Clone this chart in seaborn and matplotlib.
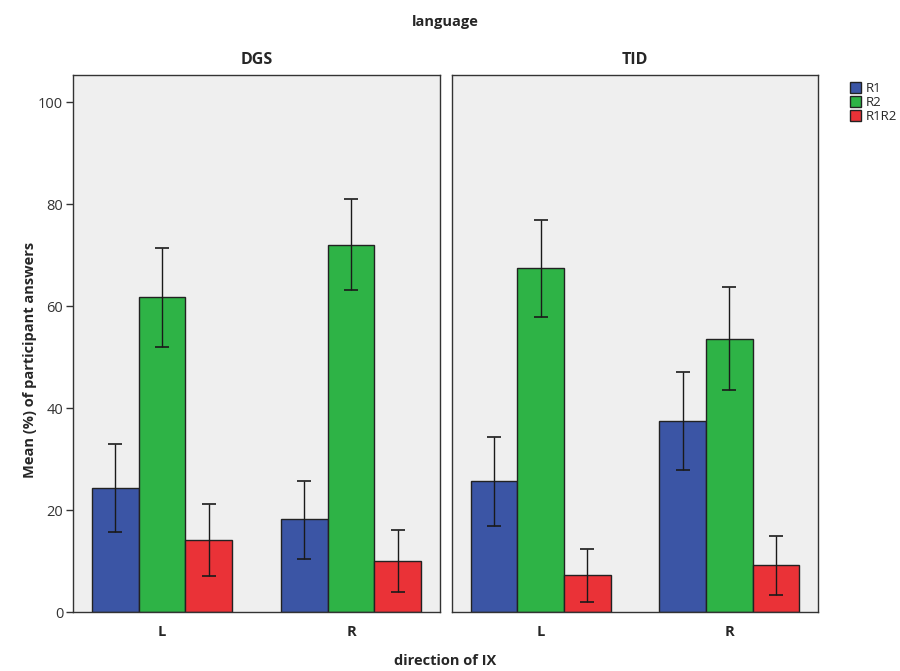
import pandas as pd
import matplotlib
matplotlib.use("Agg")
import matplotlib.pyplot as plt
import seaborn as sns

sns.set_style("white")
plt.rcParams['font.family'] = ['Open Sans', 'DejaVu Sans']

# Values
languages = ["DGS", "TID"]
directions = ["L", "R"]
responses = ["R1", "R2", "R1R2"]

# mean (%) per language -> [direction L, direction R] per response
dgs_mean = {"R1": [24.3, 18.2], "R2": [61.8, 72.0], "R1R2": [14.1, 10.0]}
tid_mean = {"R1": [25.6, 37.5], "R2": [67.4, 53.6], "R1R2": [7.2, 9.2]}
# error bar limits (low, high)
dgs_low = {"R1": [15.7, 10.3], "R2": [51.9, 63.1], "R1R2": [7.1, 4.0]}
dgs_high = {"R1": [32.9, 25.7], "R2": [71.4, 81.0], "R1R2": [21.1, 16.0]}
tid_low = {"R1": [16.8, 27.8], "R2": [57.9, 43.5], "R1R2": [2.0, 3.4]}
tid_high = {"R1": [34.3, 47.1], "R2": [76.8, 63.7], "R1R2": [12.3, 15.0]}

colors = ["#3b55a5", "#2eb346", "#ea3237"]

rows = []
for lang, means, lows, highs in [("DGS", dgs_mean, dgs_low, dgs_high),
                                 ("TID", tid_mean, tid_low, tid_high)]:
    for resp in responses:
        for i, d in enumerate(directions):
            rows.append({"language": lang, "direction": d, "response": resp,
                         "mean": means[resp][i], "low": lows[resp][i],
                         "high": highs[resp][i]})
df = pd.DataFrame(rows)

fig = plt.figure(figsize=(9, 6.71), dpi=100)
ax1 = fig.add_axes([73 / 900, 1 - 612 / 671, 367 / 900, 537 / 671])
ax2 = fig.add_axes([452 / 900, 1 - 612 / 671, 366 / 900, 537 / 671])

for ax, lang in zip([ax1, ax2], languages):
    sub = df[df["language"] == lang]
    sns.barplot(data=sub, x="direction", y="mean", hue="response",
                order=directions, hue_order=responses, palette=colors,
                width=0.742, gap=0, errorbar=None, edgecolor="#222222",
                linewidth=1, saturation=1, ax=ax, legend=(lang == "TID"))
    # error bars at the centre of each drawn bar
    for container, resp in zip(ax.containers, responses):
        for patch, d in zip(container.patches, directions):
            r = sub[(sub["response"] == resp) & (sub["direction"] == d)].iloc[0]
            xc = patch.get_x() + patch.get_width() / 2
            ax.errorbar(xc, r["mean"],
                        yerr=[[r["mean"] - r["low"]], [r["high"] - r["mean"]]],
                        fmt="none", ecolor="#1a1a1a", elinewidth=1,
                        capsize=5, capthick=1.2)
    ax.set_facecolor("#efefef")
    ax.set_xlim(-0.47, 1.47)
    ax.set_ylim(0, 105.3)
    ax.set_xlabel("")
    ax.set_ylabel("")
    ax.set_title(lang, fontsize=11.5, fontweight="bold", pad=8)
    for s in ax.spines.values():
        s.set_color("#333333")
        s.set_linewidth(1)
    ax.tick_params(axis="x", length=5, width=1, color="#333333",
                   labelsize=10.5, pad=4)
    for lbl in ax.get_xticklabels():
        lbl.set_fontweight("bold")

ax1.set_yticks([0, 20, 40, 60, 80, 100])
ax1.tick_params(axis="y", length=5, width=1, color="#333333",
                labelsize=10.5, labelcolor="#333333", left=True, pad=2)
ax2.set_yticks([])

# legend outside to the right
handles, labels = ax2.get_legend_handles_labels()
ax2.get_legend().remove()
fig.legend(handles, labels, loc="upper left", bbox_to_anchor=(843 / 900, 1 - 75 / 671),
           frameon=False, fontsize=9.5, handlelength=0.9, handleheight=0.9,
           handletextpad=0.3, labelspacing=0.1, borderpad=0)

fig.text(445 / 900, 1 - 22 / 671, "language", ha="center", va="center",
         fontsize=10.5, fontweight="bold")
fig.text(445 / 900, 1 - 661 / 671, "direction of IX", ha="center", va="center",
         fontsize=10.5, fontweight="bold")
fig.text(30 / 900, 1 - 360 / 671, "Mean (%) of participant answers",
         ha="center", va="center", rotation=90, fontsize=10.5, fontweight="bold")

fig.savefig("out.png", dpi=100, facecolor="white")
